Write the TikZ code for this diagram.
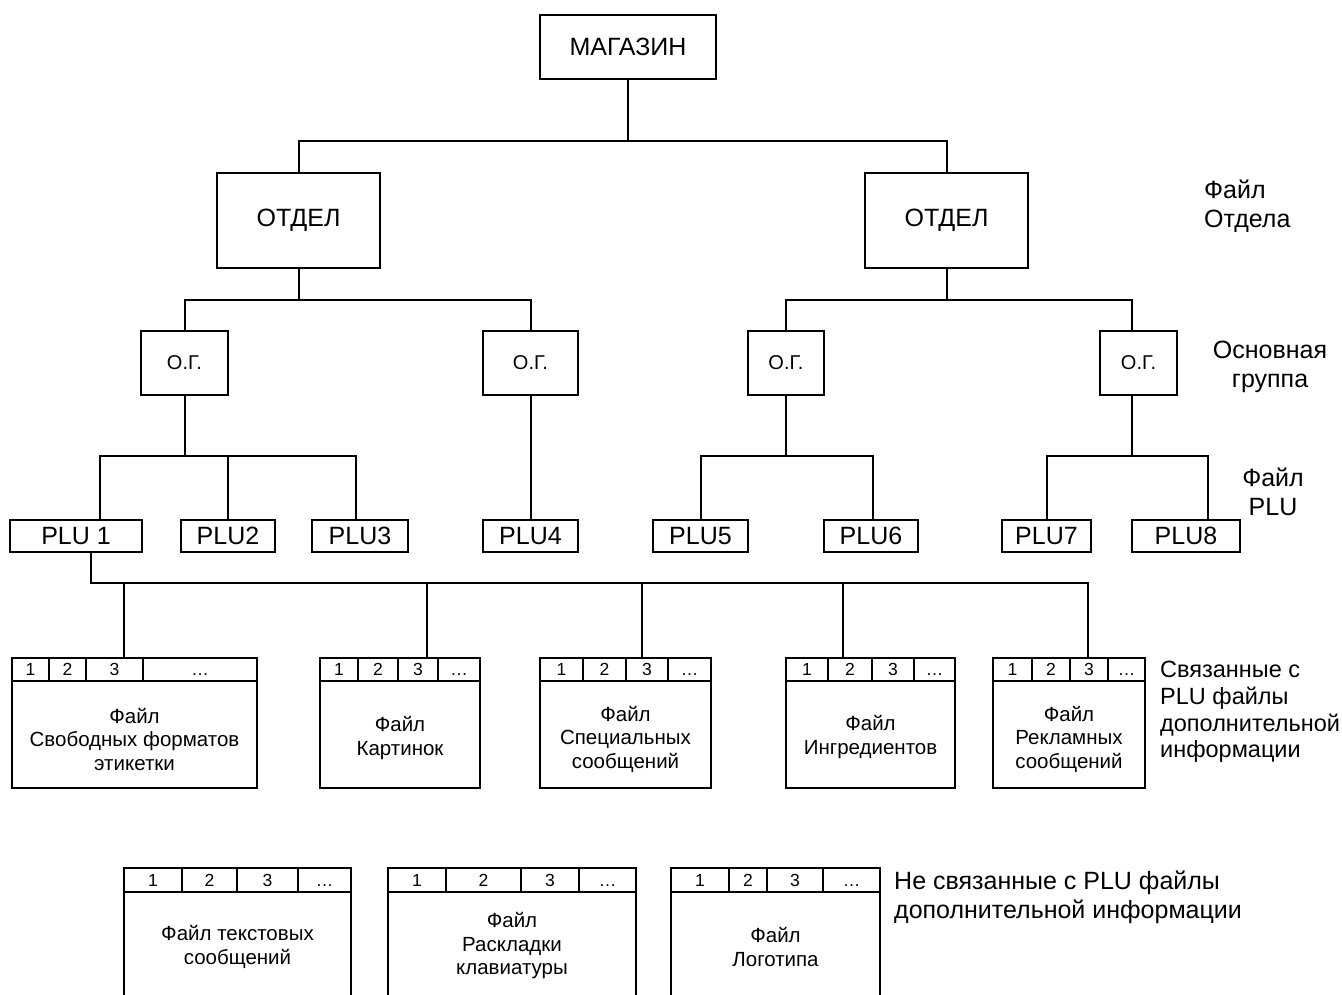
\documentclass[tikz,border=0pt]{standalone}
\usepackage{fontspec}
\setmainfont{Liberation Sans}
\newcommand\mkhead[8]{%
 \draw[ln] (#2,#5) -- (#3,#5) (#6,#4) -- (#6,#5) (#7,#4) -- (#7,#5) (#8,#4) -- (#8,#5);
 \node[num] (#1n1) at ({(#2+#6)/2},{(#4+#5)/2}) {1};
 \node[num] (#1n2) at ({(#6+#7)/2},{(#4+#5)/2}) {2};
 \node[num] (#1n3) at ({(#7+#8)/2},{(#4+#5)/2}) {3};
 \node[num] (#1n4) at ({(#8+#3)/2},{(#4+#5)/2}) {\vphantom{1}…};
}
\begin{document}
\begin{tikzpicture}[x=1pt,y=-1pt,
  ln/.style={line width=2pt},
  bx/.style={draw, line width=2pt, inner sep=0pt, outer sep=0pt, align=center},
  big/.style={font=\fontsize{25}{29}\selectfont},
  plu/.style={font=\fontsize{25}{29}\selectfont},
  ogf/.style={font=\fontsize{20}{24}\selectfont},
  num/.style={inner sep=0pt, font=\fontsize{17.5}{20}\selectfont},
  ftext/.style={inner sep=0pt, align=center, font=\fontsize{20.5}{23.5}\selectfont},
  lab/.style={inner sep=0pt, font=\fontsize{25}{29}\selectfont},
  labs/.style={inner sep=0pt, font=\fontsize{23.5}{26.7}\selectfont},
  openbox/.style={inner sep=0pt, outer sep=0pt, anchor=north west}
]
\useasboundingbox (0,0) rectangle (1342,994);

% tree nodes
\node[bx, big, minimum width=176, minimum height=64] (mag) at (628,47) {МАГАЗИН};
\node[bx, big, minimum width=163, minimum height=95] (otdL) at (298.5,220.5) {ОТДЕЛ};
\node[bx, big, minimum width=163, minimum height=95] (otdR) at (946.5,220.5) {ОТДЕЛ};
\node[bx, ogf, minimum width=87, minimum height=64] (og1) at (184.5,363) {О.Г.};
\node[bx, ogf, minimum width=95, minimum height=64] (og2) at (530.5,363) {О.Г.};
\node[bx, ogf, minimum width=76, minimum height=64] (og3) at (786,363) {О.Г.};
\node[bx, ogf, minimum width=77, minimum height=64] (og4) at (1138.5,363) {О.Г.};
\node[bx, plu, minimum width=132, minimum height=32] (plu1) at (76,536) {PLU 1};
\node[bx, plu, minimum width=94, minimum height=32] (plu2) at (228,536) {PLU2};
\node[bx, plu, minimum width=96, minimum height=32] (plu3) at (360,536) {PLU3};
\node[bx, plu, minimum width=95, minimum height=32] (plu4) at (530.5,536) {PLU4};
\node[bx, plu, minimum width=95, minimum height=32] (plu5) at (700.5,536) {PLU5};
\node[bx, plu, minimum width=94, minimum height=32] (plu6) at (871,536) {PLU6};
\node[bx, plu, minimum width=89, minimum height=32] (plu7) at (1046.5,536) {PLU7};
\node[bx, plu, minimum width=108, minimum height=32] (plu8) at (1186,536) {PLU8};

% bus coordinates
\coordinate (b1) at (628,141);
\coordinate (b2L) at (298.5,300);
\coordinate (b2R) at (946.5,300);
\coordinate (b3a) at (184.5,456);
\coordinate (b3c) at (786,456);
\coordinate (b3d) at (1132,456);

% connectors
\draw[ln] (mag.south) -- (b1);
\draw[ln] (otdL.north) |- (b1) -| (otdR.north);
\draw[ln] (otdL.south) -- (b2L);
\draw[ln] (og1.north) |- (b2L) -| (og2.north);
\draw[ln] (otdR.south) -- (b2R);
\draw[ln] (og3.north) |- (b2R) -| ([xshift=-6.5pt]og4.north);
\draw[ln] (og1.south) -- (b3a);
\draw[ln] ([xshift=24pt]plu1.north) |- (b3a) -| ([xshift=-4pt]plu3.north);
\draw[ln] (plu2.north) -- (plu2.north |- b3a);
\draw[ln] (og2.south) -- (plu4.north);
\draw[ln] (og3.south) -- (b3c);
\draw[ln] (plu5.north) |- (b3c) -| ([xshift=2pt]plu6.north);
\draw[ln] ([xshift=-6.5pt]og4.south) -- (b3d);
\draw[ln] (plu7.north) |- (b3d) -| ([xshift=22pt]plu8.north);

% file boxes linked to PLU
\node[bx, minimum width=245, minimum height=130, anchor=north west] (f1) at (12,658) {};
\node[bx, minimum width=160, minimum height=130, anchor=north west] (f2) at (320,658) {};
\node[bx, minimum width=171, minimum height=130, anchor=north west] (f3) at (540,658) {};
\node[bx, minimum width=169, minimum height=130, anchor=north west] (f4) at (786,658) {};
\node[bx, minimum width=152, minimum height=130, anchor=north west] (f5) at (993,658) {};
\mkhead{f1}{12}{257}{658}{681}{49}{86}{143}
\mkhead{f2}{320}{480}{658}{681}{358}{398}{438}
\mkhead{f3}{540}{711}{658}{681}{583}{626}{668}
\mkhead{f4}{786}{955}{658}{681}{828}{872}{914}
\mkhead{f5}{993}{1145}{658}{681}{1032}{1070}{1108}
\node[ftext] (f1t) at (134.5,739) {Файл\\Свободных форматов\\этикетки};
\node[ftext] (f2t) at (400,738) {Файл\\Картинок};
\node[ftext] (f3t) at (625.5,739) {Файл\\Специальных\\сообщений};
\node[ftext] (f4t) at (870.5,737) {Файл\\Ингредиентов};
\node[ftext] (f5t) at (1069,739) {Файл\\Рекламных\\сообщений};

\coordinate (b4) at ([xshift=18.5pt]f5.north |- 0,583);
\draw[ln] ([xshift=15pt]plu1.south) |- (b4) -- ([xshift=18.5pt]f5.north);
\draw[ln] ([xshift=-10.5pt]f1.north) -- ++(0,-75);
\draw[ln] ([xshift=27pt]f2.north) -- ++(0,-75);
\draw[ln] ([xshift=16.5pt]f3.north) -- ++(0,-75);
\draw[ln] ([xshift=-27.5pt]f4.north) -- ++(0,-75);

% file boxes not linked to PLU (open at the bottom)
\node[openbox, minimum width=227, minimum height=132] (g1) at (124,868) {};
\node[openbox, minimum width=248, minimum height=132] (g2) at (388,868) {};
\node[openbox, minimum width=209, minimum height=132] (g3) at (671,868) {};
\draw[ln] (g1.south west) |- (g1.north east) -- (g1.south east);
\draw[ln] (g2.south west) |- (g2.north east) -- (g2.south east);
\draw[ln] (g3.south west) |- (g3.north east) -- (g3.south east);
\mkhead{g1}{124}{351}{868}{892}{182}{237}{298}
\mkhead{g2}{388}{636}{868}{892}{446}{521}{579}
\mkhead{g3}{671}{880}{868}{892}{729}{767}{823}
\node[ftext] (g1t) at (237.5,947) {Файл текстовых\\сообщений};
\node[ftext] (g2t) at (512,946) {Файл\\Раскладки\\клавиатуры};
\node[ftext] (g3t) at (775.5,947) {Файл\\Логотипа};

% side labels
\node[lab, align=left, anchor=west] (lotd) at (1204,206) {Файл\\Отдела};
\node[lab, align=center] (log) at (1270,367) {Основная\\группа};
\node[lab, align=center] (lplu) at (1273,492) {Файл\\PLU};
\node[labs, align=left, anchor=west] (llink) at (1160,712) {Связанные с\\PLU файлы\\дополнительной\\информации};
\node[lab, align=left, anchor=west] (lnolink) at (894,897) {Не связанные с PLU файлы\\дополнительной информации};
\end{tikzpicture}
\end{document}
